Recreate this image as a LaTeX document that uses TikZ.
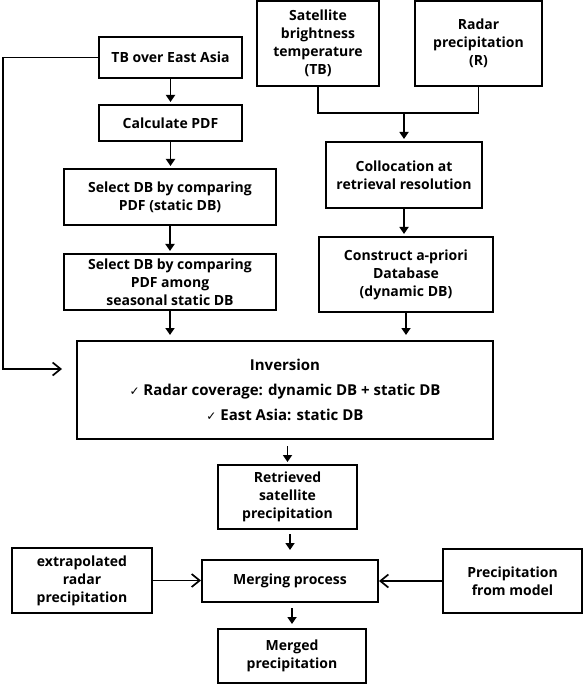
\documentclass[tikz,border=0pt]{standalone}
\usepackage{fontspec}
\setmainfont{Open Sans}
\newfontfamily\tickfont{DejaVu Sans}
\usetikzlibrary{arrows.meta,positioning}

\begin{document}
\begin{tikzpicture}[x=1pt,y=-1pt,
                font=\fontsize{14}{18}\selectfont\bfseries,
                every node/.style={align=center},
                flowbox/.style={rectangle, draw=black, line width=2pt, inner sep=0pt},
                arr/.style={-{Triangle[length=7pt,width=9pt]}, line width=1.8pt, shorten >=2pt},
                oarr/.style={-{Straight Barb[length=8pt,width=13pt]}, line width=1.7pt},
                link/.style={line width=1.8pt},
            ]
            \useasboundingbox (0,0) rectangle (583,684);

            % left column
            \node[flowbox, minimum width=143pt, minimum height=41pt] (tbea) at (170.5,57.5) {TB over East Asia};
            \node[flowbox, minimum width=143pt, minimum height=36pt] (pdf) at (170.5,123) {Calculate PDF};
            \node[flowbox, minimum width=212pt, minimum height=56pt] (selstat) at (170,197) {Select DB by comparing\\PDF (static DB)};
            \node[flowbox, minimum width=212pt, minimum height=56pt] (selseas) at (170,282) {Select DB by comparing\\PDF among\\seasonal static DB};

            % right column
            \node[flowbox, minimum width=122pt, minimum height=85pt] (sattb) at (318,43.5) {Satellite\\brightness\\temperature\\(TB)};
            \node[flowbox, minimum width=127pt, minimum height=85pt] (radar) at (478.5,43.5) {Radar\\precipitation\\(R)};
            \node[flowbox, minimum width=156pt, minimum height=66pt] (coll) at (404,175) {Collocation at\\retrieval resolution};
            \node[flowbox, minimum width=174pt, minimum height=75pt] (cons) at (406,274.5) {Construct a-priori\\Database\\(dynamic DB)};

            % inversion and merging
            \node[flowbox, minimum width=416pt, minimum height=98pt, font=\fontsize{15}{18}\selectfont\bfseries] (inv) at (285,390) {Inversion\\[7pt]
                {\tickfont\mdseries\fontsize{12}{12}\selectfont ✓} Radar coverage: dynamic DB + static DB\\[7pt]
                {\tickfont\mdseries\fontsize{12}{12}\selectfont ✓} East Asia: static DB};
            \node[flowbox, minimum width=139pt, minimum height=64pt] (retr) at (287.5,497) {Retrieved\\satellite\\precipitation};
            \node[flowbox, minimum width=176pt, minimum height=42pt] (merg) at (290,581) {Merging process};
            \node[flowbox, minimum width=148pt, minimum height=54pt] (merged) at (292,656) {Merged\\precipitation};
            \node[flowbox, minimum width=140pt, minimum height=65pt] (extra) at (82,580.5) {extrapolated\\radar\\precipitation};
            \node[flowbox, minimum width=139pt, minimum height=64pt] (model) at (512.5,581) {Precipitation\\from model};

            \coordinate (join) at (404,113);
            \coordinate (lfeed) at (3,369);

            \draw[arr] (tbea) -- (pdf);
            \draw[arr] (pdf.south) -- (pdf.south |- selstat.north);
            \draw[arr] (selstat) -- (selseas);
            \draw[arr, shorten >=5pt] (selseas.south) -- (selseas.south |- inv.north);
            \draw[link] (sattb.south) |- (join) -| (radar.south);
            \draw[arr] (join) -- (join |- coll.north);
            \draw[arr] (coll.south) -- (coll.south |- cons.north);
            \draw[arr, shorten >=5pt] (cons.south) -- (cons.south |- inv.north);
            \draw[oarr, shorten >=14pt] (tbea.west) -| (lfeed) -- (inv.west |- lfeed);
            \draw[arr, shorten <=6pt] (retr.north |- inv.south) -- (retr.north);
            \draw[arr, shorten <=4pt, shorten >=9pt] (merg.north |- retr.south) -- (merg.north);
            \draw[arr, shorten <=5pt, shorten >=4pt] (merged.north |- merg.south) -- (merged.north);
            \draw[oarr] (extra.east) -- (extra.east -| merg.west);
            \draw[oarr] (model.west) -- (model.west -| merg.east);

        \end{tikzpicture}
\end{document}
